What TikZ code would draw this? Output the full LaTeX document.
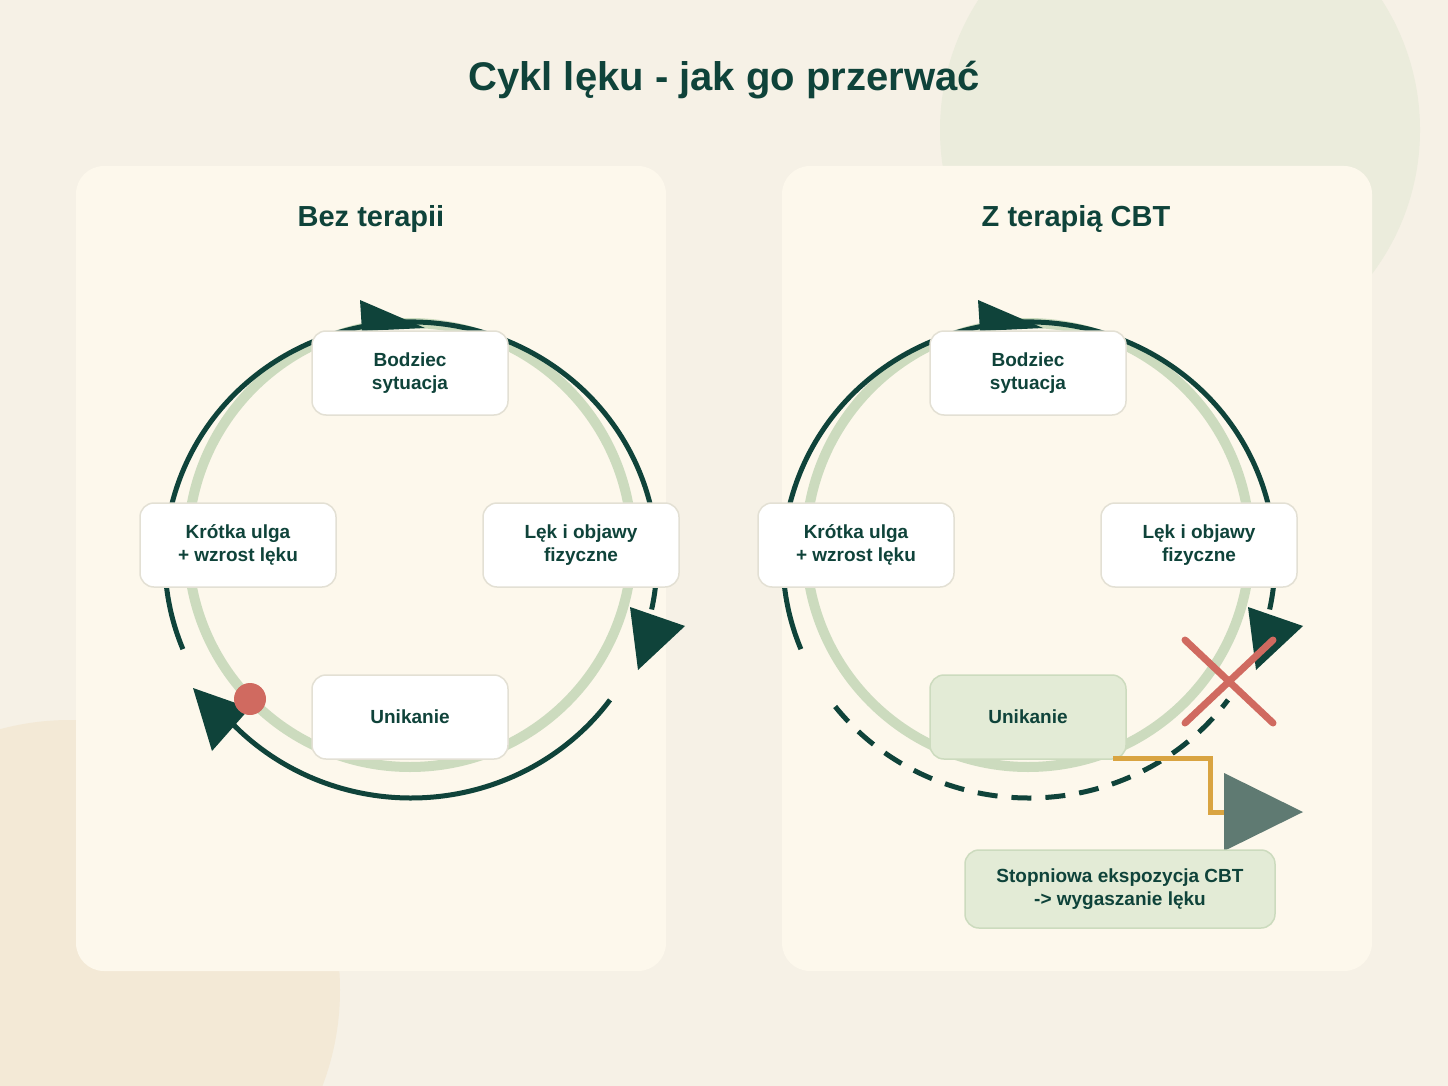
\documentclass[tikz,border=0pt]{standalone}
\usepackage{fontspec}
\setmainfont{Liberation Sans}
\definecolor{bg}{HTML}{F6F1E6}
\definecolor{panel}{HTML}{FDF8EC}
\definecolor{dk}{HTML}{0F433A}
\definecolor{lg}{HTML}{CCDBBE}
\definecolor{lgf}{HTML}{E3EBD6}
\definecolor{bord}{HTML}{E3E0D4}
\definecolor{redc}{HTML}{D06A60}
\definecolor{orc}{HTML}{D9A441}
\definecolor{grc}{HTML}{5F7A72}
\definecolor{circa}{HTML}{EBECDC}
\definecolor{circb}{HTML}{F3E9D6}
\begin{document}
\begin{tikzpicture}[x=1pt,y=-1pt,
  box/.style={draw=bord,line width=1.5pt,fill=white,rounded corners=14pt,minimum width=196pt,minimum height=84pt,align=center,font=\fontsize{19}{23}\selectfont\bfseries,text=dk},
  ptitle/.style={font=\fontsize{29}{34}\selectfont\bfseries,text=dk},
  pan/.style={fill=panel,rounded corners=28pt},
  dkarc/.style={draw=dk,line width=5pt},
  ring/.style={draw=lg,line width=10pt}]
\fill[bg] (0,0) rectangle (1448,1086);
\useasboundingbox (0,0) rectangle (1448,1086);
\begin{scope}
\clip (0,0) rectangle (1448,1086);
\fill[circa] (1180,130) circle (240);
\fill[circb] (70,990) circle (270);
\end{scope}
\node[font=\fontsize{40}{48}\selectfont\bfseries,text=dk] (title) at (724,80) {Cykl lęku - jak go przerwać};
% panels
\fill[pan] (76,166) rectangle (666,971);
\fill[pan] (782,166) rectangle (1372,971);
\node[ptitle] (t1) at (371,219) {Bez terapii};
\node[ptitle] (t2) at (1076,219) {Z terapią CBT};
% ===== left panel
\draw[ring] (410,545) circle (222);
\draw[dkarc] ([shift={(158:246 and 238)}]411,560) arc[start angle=158,end angle=372,x radius=246,y radius=238];
\draw[dkarc] ([shift={(36:246 and 238)}]411,560) arc[start angle=36,end angle=138,x radius=246,y radius=238];
\fill[dk] (360,300) -- (425,328) -- (362,331) -- cycle;
\fill[dk] (630,607) -- (685,626) -- (638,670) -- cycle;
\fill[dk] (193,688) -- (250,708) -- (212,751) -- cycle;
\fill[redc] (250,699) circle (16);
\node[box] (b1) at (410,373) {Bodziec\\sytuacja};
\node[box] (k1) at (238,545) {Krótka ulga\\+ wzrost lęku};
\node[box] (l1) at (581,545) {Lęk i objawy\\fizyczne};
\node[box] (u1) at (410,717) {Unikanie};
% ===== right panel
\draw[ring] (1028,545) circle (222);
\draw[dkarc] ([shift={(158:246 and 238)}]1029,560) arc[start angle=158,end angle=372,x radius=246,y radius=238];
\draw[dkarc,dash pattern=on 20pt off 14pt] ([shift={(142:246 and 238)}]1029,560) arc[start angle=142,end angle=36,x radius=246,y radius=238];
\fill[dk] (978,300) -- (1043,328) -- (980,331) -- cycle;
\fill[dk] (1248,607) -- (1303,626) -- (1256,670) -- cycle;
\node[box] (b2) at (1028,373) {Bodziec\\sytuacja};
\node[box] (k2) at (856,545) {Krótka ulga\\+ wzrost lęku};
\node[box] (l2) at (1199,545) {Lęk i objawy\\fizyczne};
\node[box,fill=lgf,draw=lg] (u2) at (1028,717) {Unikanie};
\draw[redc,line width=7pt,line cap=round] (1185,640) -- (1273,723) (1185,723) -- (1273,640);
\coordinate (oa) at (1113,758);
\coordinate (ob) at (1224,812);
\draw[orc,line width=5pt] (oa) -- (1210,758) -- (1210,812) -- (ob);
\fill[grc] (1224,773) -- (1303,812) -- (1224,851) -- cycle;
\node[box,fill=lgf,draw=lg,minimum width=310pt,minimum height=78pt] (s2) at (1120,889) {Stopniowa ekspozycja CBT\\-> wygaszanie lęku};
\end{tikzpicture}
\end{document}
